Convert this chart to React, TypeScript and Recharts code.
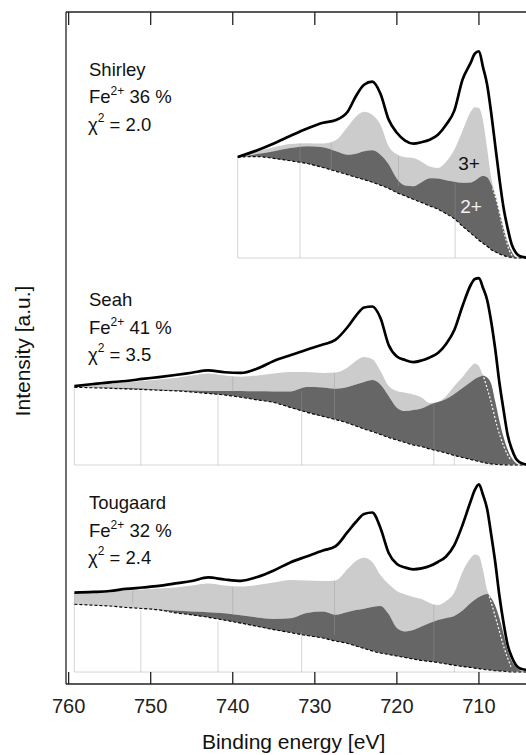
import React from 'react'
import { ComposedChart, Area, Line, XAxis, YAxis, ReferenceLine } from 'recharts'

const FONT = '"Liberation Sans", Arial, Helvetica, sans-serif'

// axes
const xTicks = [760, 750, 740, 730, 720, 710]
const xDomain: [number, number] = [700, 760.32]
const yDomain: [number, number] = [0, 56]

// stacking offsets of the three fits (a.u.)
const shirleyOffset = 35.5
const seahOffset = 18.25
const tougaardOffset = 1

// ---- Shirley (values relative to panel zero) ----
const shirleyEnergy = [
  739.4, 737, 735, 733, 731, 729,
  727.5, 726, 725, 724, 723, 722, 721, 720, 719, 718, 717, 716, 715, 714, 713, 712, 711,
  710.5, 710, 709.5, 709, 708.5, 708, 707.5, 707, 706.5, 706, 705.5, 705, 704.5, 703.5,
  702,
]
const shirleyMeasured = [
  8.42, 8.98, 9.54, 10.17, 10.77, 11.27,
  11.48, 12.19, 13.48, 14.44, 14.69, 13.69, 11.53, 10.44, 9.78, 9.53, 9.65, 9.86, 10.28, 11.11, 12.28, 14.86, 16.28,
  17.03, 17.23, 15.89, 14.44, 12.06, 9.3, 6.58, 4.19, 2.48, 1.11, 0.44, 0.15, 0.07, 0,
  0,
]
const shirleyBackground = [
  8.42, 8.45, 8.3, 8.1, 7.88, 7.54,
  7.24, 6.94, 6.73, 6.53, 6.32, 6.07, 5.8, 5.44, 5.17, 4.89, 4.62, 4.34, 4.07, 3.69, 3.27, 2.65, 2.07,
  1.78, 1.48, 1.23, 0.98, 0.69, 0.51, 0.34, 0.21, 0.11, 0.04, 0, 0, 0, 0,
  0,
]
const shirleyFe2Top = [
  8.42, 8.67, 8.9, 9.16, 9.32, 9.23,
  8.92, 8.61, 8.69, 8.9, 8.98, 8.61, 7.82, 6.61, 6.04, 5.98, 6.32, 6.65, 6.63, 6.48, 6.36, 6.28, 6.3,
  6.44, 6.69, 6.86, 6.73, 6.15, 5.28, 3.9, 2.53, 1.32, 0.53, 0.08, 0, 0, 0,
  0,
]
const shirleyFitTop = [
  8.42, 8.9, 9.23, 9.5, 9.57, 9.54,
  9.79, 10.94, 11.78, 12.19, 11.94, 11.11, 9.32, 8.65, 8.4, 8.34, 8.03, 7.63, 7.51, 8.03, 9.02, 10.61, 12.19,
  12.57, 12.49, 11.44, 9.15, 6.69, 5.28, 3.9, 2.53, 1.32, 0.53, 0.08, 0, 0, 0,
  0,
]
const shirleyEdgeEnergy = [708.33, 707.8, 707.32, 706.83, 706.34, 705.89]
const shirleyEdge = [5.8, 4.61, 3.19, 1.86, 0.69, 0.13]
const shirleyDividers = [
  [739.4, 0, 8.42], [731.8, 0, 9.56], [728.0, 7.2, 9.6], [719.8, 5.97, 8.45], [712.9, 0, 6.35],
]

// ---- Seah and Tougaard share one energy grid ----
const wideEnergy = [
  759.3, 757, 755, 753, 751, 749, 747, 745, 743, 741, 739, 737, 735, 733, 731, 729,
  727.5, 726, 725, 724, 723, 722, 721, 720, 719, 718, 717, 716, 715, 714, 713, 712, 711,
  710.5, 710, 709.5, 709, 708.5, 708, 707.5, 707, 706.5, 706, 705.5, 705, 704.5, 703.5,
  702,
]

const seahMeasured = [
  6.58, 6.75, 6.89, 7.0, 7.17, 7.33, 7.5, 7.69, 7.88, 7.73, 7.67, 8.04, 8.67, 9.15, 9.61, 10.04,
  10.42, 11.5, 12.42, 13.13, 13.21, 12.25, 10.0, 9.04, 8.75, 8.58, 8.71, 8.96, 9.33, 10.08, 11.25, 13.25, 15.0,
  15.5, 15.58, 14.75, 13.75, 11.92, 9.58, 6.83, 4.58, 2.5, 1.33, 0.54, 0.21, 0.08, 0,
  0,
]
const seahBackground = [
  6.48, 6.43, 6.39, 6.34, 6.29, 6.23, 6.18, 6.08, 5.96, 5.83, 5.64, 5.42, 5.21, 4.8, 4.4, 4.05,
  3.79, 3.5, 3.25, 3.0, 2.79, 2.54, 2.29, 2.08, 1.88, 1.67, 1.54, 1.33, 1.17, 1.0, 0.79, 0.63, 0.46,
  0.38, 0.29, 0.21, 0.14, 0.08, 0.06, 0.03, 0.02, 0, 0, 0, 0, 0, 0,
  0,
]
const seahFe2Top = [
  6.48, 6.46, 6.46, 6.42, 6.38, 6.29, 6.25, 6.21, 6.17, 6.17, 6.17, 6.14, 6.13, 6.13, 6.5, 6.46,
  6.36, 6.5, 6.71, 6.92, 7.08, 6.71, 5.75, 4.78, 4.5, 4.58, 4.71, 5.02, 5.25, 5.5, 5.92, 6.42, 6.92,
  7.17, 7.33, 7.43, 7.29, 6.75, 5.25, 3.67, 2.33, 1.29, 0.58, 0.17, 0, 0, 0,
  0,
]
const seahFitTop = [
  6.58, 6.71, 6.81, 6.9, 7.0, 7.13, 7.25, 7.46, 7.63, 7.46, 7.36, 7.46, 7.63, 7.75, 7.75, 7.67,
  7.71, 8.13, 8.67, 9.0, 8.83, 7.83, 6.58, 6.17, 6.03, 5.88, 5.63, 5.17, 5.25, 5.75, 6.58, 7.33, 8.17,
  8.46, 8.25, 7.5, 7.29, 6.75, 5.25, 3.67, 2.33, 1.29, 0.58, 0.17, 0, 0, 0,
  0,
]
const seahEdgeEnergy = [709.41, 708.59, 707.77, 706.96, 706.15]
const seahEdge = [7.3, 5.42, 3.19, 1.53, 0.42]
const seahDividers = [
  [759.3, 0, 6.55], [751.2, 0, 6.3], [741.8, 0, 6.0], [740.0, 6.1, 7.36], [731.6, 0, 6.2],
  [727.6, 3.6, 7.67], [715.5, 0, 5.1], [713.0, 0, 0.9],
]

const tougaardMeasured = [
  6.61, 6.67, 6.75, 6.92, 7.04, 7.17, 7.38, 7.58, 7.88, 7.71, 7.6, 7.92, 8.46, 9.13, 9.63, 10.13,
  10.46, 11.67, 12.5, 13.17, 13.29, 12.0, 9.92, 9.0, 8.71, 8.56, 8.63, 8.83, 9.17, 9.63, 10.58, 12.25, 14.25,
  15.17, 15.63, 14.75, 13.58, 11.42, 9.08, 6.33, 4.08, 2.25, 1.25, 0.58, 0.29, 0.21, 0.08,
  0,
]
const tougaardBackground = [
  5.64, 5.57, 5.5, 5.38, 5.29, 5.18, 4.93, 4.76, 4.56, 4.32, 4.07, 3.8, 3.53, 3.29, 3.04, 2.83,
  2.58, 2.38, 2.17, 1.96, 1.75, 1.58, 1.46, 1.33, 1.21, 1.08, 0.96, 0.88, 0.79, 0.67, 0.56, 0.46, 0.38,
  0.32, 0.28, 0.23, 0.18, 0.15, 0.11, 0.08, 0.06, 0.03, 0, 0, 0, 0, 0,
  0,
]
const tougaardFe2Top = [
  5.64, 5.57, 5.5, 5.38, 5.31, 5.21, 5.13, 5.04, 4.98, 4.9, 4.73, 4.54, 4.42, 4.47, 4.92, 5.04,
  4.77, 5.0, 5.17, 5.28, 5.42, 5.5, 4.83, 3.67, 3.38, 3.5, 3.79, 4.08, 4.33, 4.5, 4.67, 5.12, 5.75,
  6.03, 6.25, 6.42, 6.5, 6.17, 5.5, 4.5, 3.17, 1.83, 0.92, 0.42, 0.13, 0.03, 0,
  0,
]
const tougaardFitTop = [
  6.56, 6.63, 6.71, 6.79, 6.88, 6.96, 7.04, 7.21, 7.38, 7.21, 7.13, 7.25, 7.46, 7.67, 7.63, 7.58,
  7.63, 8.58, 9.25, 9.53, 9.17, 8.08, 7.33, 6.75, 6.46, 6.25, 6.08, 5.75, 5.58, 5.92, 6.63, 8.33, 9.5,
  9.79, 9.67, 8.5, 6.83, 6.17, 5.5, 4.5, 3.17, 1.83, 0.92, 0.42, 0.13, 0.03, 0,
  0,
]
const tougaardEdgeEnergy = [708.74, 708.54, 707.72, 706.91, 706.1]
const tougaardEdge = [6.3, 5.86, 3.92, 1.97, 0.44]
const tougaardDividers = [
  [759.3, 0, 6.6], [752.2, 5.7, 6.8], [751.2, 0, 5.2], [741.8, 0, 4.2], [740.0, 4.75, 7.1],
  [731.6, 0, 3.4], [727.6, 3.1, 7.6], [715.5, 0.86, 5.6], [713.0, 0, 0.5],
]

// panel annotations
const panelNames = ['Shirley', 'Seah', 'Tougaard']
const fe2Shares = [36, 41, 32]
const chiSquared = ['2.0', '3.5', '2.4']

const panels = [
  {
    key: 'shirley', offset: shirleyOffset, energy: shirleyEnergy, measured: shirleyMeasured,
    background: shirleyBackground, fe2Top: shirleyFe2Top, fitTop: shirleyFitTop,
    edgeEnergy: shirleyEdgeEnergy, edge: shirleyEdge, dividers: shirleyDividers,
  },
  {
    key: 'seah', offset: seahOffset, energy: wideEnergy, measured: seahMeasured,
    background: seahBackground, fe2Top: seahFe2Top, fitTop: seahFitTop,
    edgeEnergy: seahEdgeEnergy, edge: seahEdge, dividers: seahDividers,
  },
  {
    key: 'tougaard', offset: tougaardOffset, energy: wideEnergy, measured: tougaardMeasured,
    background: tougaardBackground, fe2Top: tougaardFe2Top, fitTop: tougaardFitTop,
    edgeEnergy: tougaardEdgeEnergy, edge: tougaardEdge, dividers: tougaardDividers,
  },
]

const buildRows = (p: typeof panels[number]) =>
  p.energy.map((e, i) => {
    const bg = p.background[i] + p.offset
    const fe2 = Math.max(p.fe2Top[i], p.background[i]) + p.offset
    const fit = Math.max(p.fitTop[i], p.fe2Top[i]) + p.offset
    return { e, measured: p.measured[i] + p.offset, background: bg, fe2: [bg, fe2], fe3: [fe2, fit] }
  })

const renderPanel = (p: typeof panels[number]) => {
  const rows = buildRows(p)
  const edgeRows = p.edgeEnergy.map((e, i) => ({ e, edge: p.edge[i] + p.offset }))
  return [
    <Area key={p.key + '-fe3'} data={rows} dataKey="fe3" type="monotone" stroke="none" fill="#cccccc" fillOpacity={1} isAnimationActive={false} />,
    <Area key={p.key + '-fe2'} data={rows} dataKey="fe2" type="monotone" stroke="none" fill="#666666" fillOpacity={1} isAnimationActive={false} />,
    <ReferenceLine
      key={p.key + '-zero'}
      segment={[{ x: p.energy[0], y: p.offset }, { x: xDomain[0], y: p.offset }]}
      stroke="#d6d6d6"
      strokeWidth={1}
    />,
    ...p.dividers.map(([e, lo, hi], i) => (
      <ReferenceLine
        key={p.key + '-div' + i}
        segment={[{ x: e, y: lo + p.offset }, { x: e, y: hi + p.offset }]}
        stroke="#999999"
        strokeOpacity={0.4}
        strokeWidth={1}
      />
    )),
    <Line key={p.key + '-edge'} data={edgeRows} dataKey="edge" type="monotone" stroke="#ffffff" strokeWidth={1.2} strokeDasharray="2 2" dot={false} activeDot={false} isAnimationActive={false} />,
    <Line key={p.key + '-bg'} data={rows} dataKey="background" type="monotone" stroke="#000" strokeWidth={1.1} strokeDasharray="3 2" dot={false} activeDot={false} isAnimationActive={false} />,
    <Line key={p.key + '-meas'} data={rows} dataKey="measured" type="monotone" stroke="#000" strokeWidth={2.7} dot={false} activeDot={false} isAnimationActive={false} />,
  ]
}

const labelBaselines = [75.5, 306, 509]
const lineGap = 27.5

export default function App() {
  const topRows = buildRows(panels[0])
  return (
    <div style={{ position: 'absolute', left: 0, top: 0, width: 526, height: 755, overflow: 'hidden', background: '#fff', fontFamily: FONT }}>
      <ComposedChart width={561} height={755} margin={{ top: 0, right: 0, bottom: 0, left: 0 }}>
        <XAxis
          xAxisId={0}
          type="number"
          dataKey="e"
          domain={xDomain}
          reversed
          allowDataOverflow
          ticks={xTicks}
          interval={0}
          tickSize={-12}
          tickMargin={27}
          height={71}
          stroke="#222"
          strokeWidth={1.3}
          tick={{ fontSize: 20, fill: '#222', fontFamily: FONT }}
        />
        <XAxis
          xAxisId="top"
          orientation="top"
          type="number"
          dataKey="e"
          domain={xDomain}
          reversed
          allowDataOverflow
          ticks={xTicks}
          interval={0}
          tick={{ fill: 'none', fontSize: 1 }}
          tickLine={{ stroke: '#222', strokeWidth: 1.3 }}
          tickSize={-13}
          height={12}
          stroke="#222"
          strokeWidth={1.3}
        />
        <YAxis type="number" domain={yDomain} allowDataOverflow width={66} tick={false} tickLine={false} stroke="#222" strokeWidth={1.3} />
        {panels.flatMap(renderPanel)}
        {/* invisible series that keeps the top frame axis alive */}
        <Line xAxisId="top" data={topRows} dataKey="measured" stroke="none" dot={false} activeDot={false} isAnimationActive={false} />
      </ComposedChart>
      <svg width={526} height={755} style={{ position: 'absolute', left: 0, top: 0, pointerEvents: 'none' }} fontFamily={FONT}>
        <text transform="translate(30, 351) rotate(-90)" textAnchor="middle" fontSize={21} fill="#111">
          Intensity [a.u.]
        </text>
        <text x={293.6} y={749} textAnchor="middle" fontSize={21} fill="#111">
          Binding energy [eV]
        </text>
        {panelNames.map((name, i) => {
          const y0 = labelBaselines[i]
          return (
            <g key={name} fontSize={18.5} fill="#111">
              <text x={89} y={y0}>{name}</text>
              <text x={89} y={y0 + lineGap}>
                Fe<tspan dy={-8} fontSize={12}>2+</tspan>
                <tspan dy={8}>{` ${fe2Shares[i]} %`}</tspan>
              </text>
              <text x={88} y={y0 + 2 * lineGap}>
                χ<tspan dy={-9} fontSize={12}>2</tspan>
                <tspan dy={9}>{` = ${chiSquared[i]}`}</tspan>
              </text>
            </g>
          )
        })}
        <text x={469} y={170} textAnchor="middle" fontSize={19} fill="#111">3+</text>
        <text x={471} y={213.3} textAnchor="middle" fontSize={19} fill="#f2f2f2">2+</text>
      </svg>
    </div>
  )
}
